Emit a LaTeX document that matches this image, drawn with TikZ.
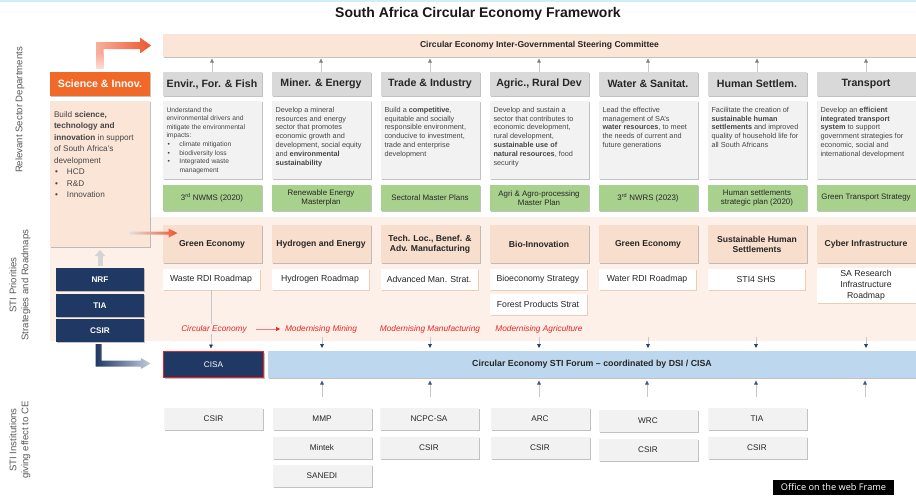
\documentclass[tikz,border=0pt]{standalone}
\usepackage{fontspec}
\setmainfont{Liberation Sans}
\newfontfamily\uifont{Open Sans}
\usetikzlibrary{shadows,arrows.meta,calc}

\newcommand{\fsz}[2]{\fontsize{#1}{#2}\selectfont}
\newcommand{\bul}{\makebox[13pt][l]{\hspace{1pt}\textbullet}}

\definecolor{hdrgrey}{RGB}{217,217,217}
\definecolor{descgrey}{RGB}{242,242,242}
\definecolor{plangreen}{RGB}{169,209,142}
\definecolor{peach}{RGB}{251,229,214}
\definecolor{peachband}{RGB}{253,240,232}
\definecolor{priofill}{RGB}{248,222,204}
\definecolor{navy}{RGB}{31,56,100}
\definecolor{navylight}{RGB}{195,205,222}
\definecolor{forumblue}{RGB}{189,215,238}
\definecolor{sciorange}{RGB}{240,105,40}
\definecolor{txtdark}{RGB}{38,38,38}
\definecolor{txtgrey}{RGB}{70,70,70}
\definecolor{labred}{RGB}{235,35,35}
\definecolor{topline}{RGB}{205,238,250}
\definecolor{orlight}{RGB}{248,175,155}
\definecolor{ordark}{RGB}{238,85,45}
\definecolor{shadowgrey}{RGB}{120,120,120}
\definecolor{roadshadow}{RGB}{225,170,140}

\tikzset{
  boxbase/.style={rectangle, inner sep=0pt, outer sep=0pt, align=center, text=txtdark},
  shd/.style={drop shadow={shadow xshift=1.3pt, shadow yshift=-1.3pt, opacity=0.45, fill=shadowgrey}},
  hdr/.style={boxbase, shd, fill=hdrgrey, minimum width=99pt, minimum height=24pt, font=\fsz{10.6}{12}\bfseries},
  desc/.style={boxbase, shd, fill=descgrey, inner xsep=4pt, inner ysep=0pt, align=left, text=txtgrey, font=\fsz{7.3}{8.8}},
  plan/.style={boxbase, shd, fill=plangreen, minimum width=99pt, minimum height=26pt, font=\fsz{7.9}{9.4}},
  priobox/.style={boxbase, shd, fill=priofill, minimum width=99pt, minimum height=38pt, font=\fsz{8.6}{10}\bfseries},
  road/.style={boxbase, drop shadow={shadow xshift=1.3pt, shadow yshift=-1.3pt, opacity=0.5, fill=roadshadow}, fill=white, minimum width=97pt, minimum height=21pt, font=\fsz{8.7}{11}, anchor=west},
  navybox/.style={boxbase, shd, fill=navy, text=white, minimum width=88pt, minimum height=23pt, font=\fsz{8.2}{9}\bfseries},
  inst/.style={boxbase, shd, fill=descgrey, minimum width=99pt, minimum height=22pt, font=\fsz{8.2}{9}},
  redlab/.style={boxbase, inner sep=1pt, fill=peachband, text=labred, font=\fsz{8.3}{9}\itshape},
  sidelabel/.style={boxbase, rotate=90, text=black!65, font=\fsz{9.6}{12}},
  uparr/.style={draw=black!22, line width=0.6pt, -{Triangle[length=4pt, width=3.6pt, color=black!50]}},
  downarr/.style={draw=black!22, line width=0.6pt, -{Triangle[length=4pt, width=3.6pt, color=navy]}},
  forumarr/.style={draw=black!22, line width=0.6pt, -{Triangle[length=4pt, width=3.6pt, color=navy!85]}},
}

\begin{document}
\begin{tikzpicture}[x=1pt, y=-1pt]
\useasboundingbox (0,0) rectangle (916,496);
\fill[white] (0,0) rectangle (916,496);
\fill[topline] (0,0) rectangle (916,1.5);

% title
\node[font=\fsz{14}{16}\bfseries, text=black!90] (title) at (478,14) {South Africa Circular Economy Framework};

% row labels on the left
\node[sidelabel] (lab1) at (20,110) {Relevant Sector Departments};
\node[sidelabel] (lab2) at (20,285) {STI Priorities\\Strategies and Roadmaps};
\node[sidelabel] (lab3) at (20,440) {STI Institutions\\giving effect to CE};

% steering committee bar
\node[boxbase, shd, fill=peach, minimum width=753pt, minimum height=23pt, anchor=north west,
      font=\fsz{8.6}{9}\bfseries] (sc) at (163,34) {Circular Economy Inter-Governmental Steering Committee};

% department headers
\node[hdr, fill=sciorange, text=white, minimum width=100pt] (h0) at (100,84) {Science \& Innov.};
\node[hdr] (h1) at (212,84) {Envir., For. \& Fish};
\node[hdr] (h2) at (321,84) {Miner. \& Energy};
\node[hdr] (h3) at (430,84) {Trade \& Industry};
\node[hdr] (h4) at (539,84) {Agric., Rural Dev};
\node[hdr] (h5) at (648,84) {Water \& Sanitat.};
\node[hdr] (h6) at (757,84) {Human Settlem.};
\node[hdr] (h7) at (866,84) {Transport};

% band behind the STI priorities
\fill[peachband] (50,217) rectangle (916,341);

% mandates
\node[desc, fill=peach, anchor=north] (d0) at (100,101) {\parbox[t][146pt][t]{92pt}{\vspace*{10.5pt}\fsz{8.2}{11.5}Build \textbf{science,}\\ \textbf{technology and}\\ \textbf{innovation} in support\\ of South Africa's\\ development\\ \bul HCD\\ \bul R\&D\\ \bul Innovation}};
\node[desc, anchor=north] (d1) at (212,101) {\parbox[t][78pt][t]{91pt}{\vspace*{6.3pt}\fsz{6.7}{8.6}Understand the\\ environmental drivers and\\ mitigate the environmental\\ impacts:\\ \bul climate mitigation\\ \bul biodiversity loss\\ \bul Integrated waste\\ \hspace*{13pt}management}};
\node[desc, anchor=north] (d2) at (321,101) {\parbox[t][78pt][t]{91pt}{\vspace*{6pt}Develop a mineral\\ resources and energy\\ sector that promotes\\ economic growth and\\ development, social equity\\ and \textbf{environmental}\\ \textbf{sustainability}}};
\node[desc, anchor=north] (d3) at (430,101) {\parbox[t][78pt][t]{91pt}{\vspace*{6pt}Build a \textbf{competitive},\\ equitable and socially\\ responsible environment,\\ conducive to investment,\\ trade and enterprise\\ development}};
\node[desc, anchor=north] (d4) at (539,101) {\parbox[t][78pt][t]{91pt}{\vspace*{6pt}Develop and sustain a\\ sector that contributes to\\ economic development,\\ rural development,\\ \textbf{sustainable use of}\\ \textbf{natural resources}, food\\ security}};
\node[desc, anchor=north] (d5) at (648,101) {\parbox[t][78pt][t]{91pt}{\vspace*{6pt}Lead the effective\\ management of SA's\\ \textbf{water resources}, to meet\\ the needs of current and\\ future generations}};
\node[desc, anchor=north] (d6) at (757,101) {\parbox[t][78pt][t]{91pt}{\vspace*{6pt}Facilitate the creation of\\ \textbf{sustainable human}\\ \textbf{settlements} and improved\\ quality of household life for\\ all South Africans}};
\node[desc, anchor=north] (d7) at (866,101) {\parbox[t][78pt][t]{91pt}{\vspace*{6pt}Develop an \textbf{efficient}\\ \textbf{integrated transport}\\ \textbf{system} to support\\ government strategies for\\ economic, social and\\ international development}};

% sector plans
\node[plan] (g1) at (212,198) {3\textsuperscript{rd} NWMS (2020)};
\node[plan] (g2) at (321,198) {Renewable Energy\\Masterplan};
\node[plan] (g3) at (430,198) {Sectoral Master Plans};
\node[plan] (g4) at (539,198) {Agri \& Agro-processing\\Master Plan};
\node[plan] (g5) at (648,198) {3\textsuperscript{rd} NWRS (2023)};
\node[plan] (g6) at (757,198) {Human settlements\\strategic plan (2020)};
\node[plan] (g7) at (866,198) {Green Transport Strategy};

% STI priorities
\node[priobox] (p1) at (212,244) {Green Economy};
\node[priobox] (p2) at (321,244) {Hydrogen and Energy};
\node[priobox] (p3) at (430,244) {Tech. Loc., Benef. \&\\Adv. Manufacturing};
\node[priobox] (p4) at (539,244) {Bio-Innovation};
\node[priobox] (p5) at (648,244) {Green Economy};
\node[priobox] (p6) at (757,244) {Sustainable Human\\Settlements};
\node[priobox] (p7) at (866,244) {Cyber Infrastructure};

% roadmaps and strategies
\node[road] (r1) at (162.5,279.5) {Waste RDI Roadmap};
\node[road] (r2) at (271.5,279.5) {Hydrogen Roadmap};
\node[road] (r3) at (380.5,279.5) {Advanced Man. Strat.};
\node[road] (r4) at (489.5,279.5) {Bioeconomy Strategy};
\node[road] (r4b) at (489.5,304.5) {Forest Products Strat};
\node[road] (r5) at (598.5,279.5) {Water RDI Roadmap};
\node[road] (r6) at (707.5,279.5) {STI4 SHS};
\node[road, minimum width=99pt, minimum height=35pt] (r7) at (816.5,285.5) {SA Research\\Infrastructure\\Roadmap};

% funding agencies
\node[navybox] (nrf) at (100,279.5) {NRF};
\node[navybox] (tia) at (100,305.5) {TIA};
\node[navybox] (csir) at (100,330.5) {CSIR};

% forum row
\node[navybox, draw=labred, line width=1.4pt, minimum width=99.5pt, minimum height=26pt] (cisa) at (213.5,364.5) {\mdseries CISA};
\node[boxbase, shd, fill=forumblue, minimum width=648pt, minimum height=27pt, anchor=west,
      font=\fsz{8.8}{10}\bfseries] (forum) at (268,364.5) {Circular Economy STI Forum -- coordinated by DSI / CISA};

% institutions
\node[inst] (i1a) at (213.5,419) {CSIR};
\node[inst] (i2a) at (322,419) {MMP};
\node[inst] (i2b) at (322,447.5) {Mintek};
\node[inst] (i2c) at (322,476) {SANEDI};
\node[inst] (i3a) at (429,419) {NCPC-SA};
\node[inst] (i3b) at (429,447.5) {CSIR};
\node[inst] (i4a) at (540,419) {ARC};
\node[inst] (i4b) at (540,447.5) {CSIR};
\node[inst] (i5a) at (648,421) {WRC};
\node[inst] (i5b) at (648,449.5) {CSIR};
\node[inst] (i6a) at (757,419) {TIA};
\node[inst] (i6b) at (757,447.5) {CSIR};

% departments report to the steering committee
\foreach \i in {1,...,7}
  \draw[uparr, shorten >=1.5pt, shorten <=0.5pt] (h\i.north) -- (h\i.north |- sc.south);

% science department to the steering committee
\coordinate (oaS) at ($(h0.north)+(0,-4)$);
\coordinate (oaE) at ($(sc.west)+(-12,0)$);
\shade[left color=orlight, right color=ordark]
  ($(oaS)+(-3.5,0)$) |- ($(oaE)+(-11,-3.5)$) -- ++(0,-4.5) -- (oaE) -- ++(-11,8) -- ++(0,-4.5) -| ($(oaS)+(3.5,0)$) -- cycle;
\shade[top color=orlight, bottom color=white!55!orlight] ($(oaS)+(-3.5,-14)$) rectangle ($(oaS)+(3.5,0)$);

% science mandate feeds the STI priorities
\coordinate (sa1) at ($(p1.west)+(-33,-11)$);
\coordinate (sa2) at ($(p1.west)+(15,-11)$);
\shade[left color=black!12, right color=ordark]
  ($(sa1)+(0,-1.5)$) -- ($(sa2)+(-9,-1.5)$) -- ++(0,-3) -- (sa2) -- ++(-9,4.5) -- ++(0,-3) -- ($(sa1)+(0,1.5)$) -- cycle;

% agencies support the science mandate
\draw[line width=5pt, draw=black!17, -{Triangle[length=6pt, width=10pt]}, shorten <=2pt, shorten >=3pt]
  (nrf.north) -- (nrf.north |- d0.south);

% agencies to CISA
\coordinate (naS) at ($(csir.south)+(-1.5,2)$);
\coordinate (naE) at ($(cisa.west)+(-13,-1)$);
\shade[left color=navy, right color=navylight]
  ($(naS)+(-3,0)$) |- ($(naE)+(-10,3)$) -- ++(0,2.5) -- (naE) -- ++(-10,-5.5) -- ++(0,2.5) -| ($(naS)+(3,0)$) -- cycle;

% priorities feed the forum
\draw[downarr, shorten >=3pt] (r1.south) -- (r1.south |- cisa.north);
\foreach \x [count=\k from 2] in {322,430,539,648,756,866} {
  \coordinate (s\k) at (\x,337);
  \draw[downarr, shorten >=3pt] (s\k) -- (s\k |- forum.north);
}

% institutions feed the forum
\foreach \x [count=\k from 2] in {322,430,539,647,756,865} {
  \coordinate (u\k) at (\x,397);
  \draw[forumarr, shorten >=2.5pt] (u\k) -- (u\k |- forum.south);
}

% STI themes
\node[redlab] (m0) at (214,329) {Circular Economy};
\node[redlab] (m1) at (321,329) {Modernising Mining};
\node[redlab] (m2) at (430,329) {Modernising Manufacturing};
\node[redlab] (m3) at (539,329) {Modernising Agriculture};
\draw[draw=labred!60, line width=0.6pt, -{Triangle[length=4pt, width=4pt, color=labred]}, shorten <=8pt, shorten >=4pt] (m0) -- (m1);

% frame caption
\node[boxbase, fill=black, text=white, minimum width=121pt, minimum height=15pt, anchor=north west,
      font=\uifont\fsz{9.2}{10}] (owf) at (773,480) {Office on the web Frame};
\end{tikzpicture}
\end{document}
